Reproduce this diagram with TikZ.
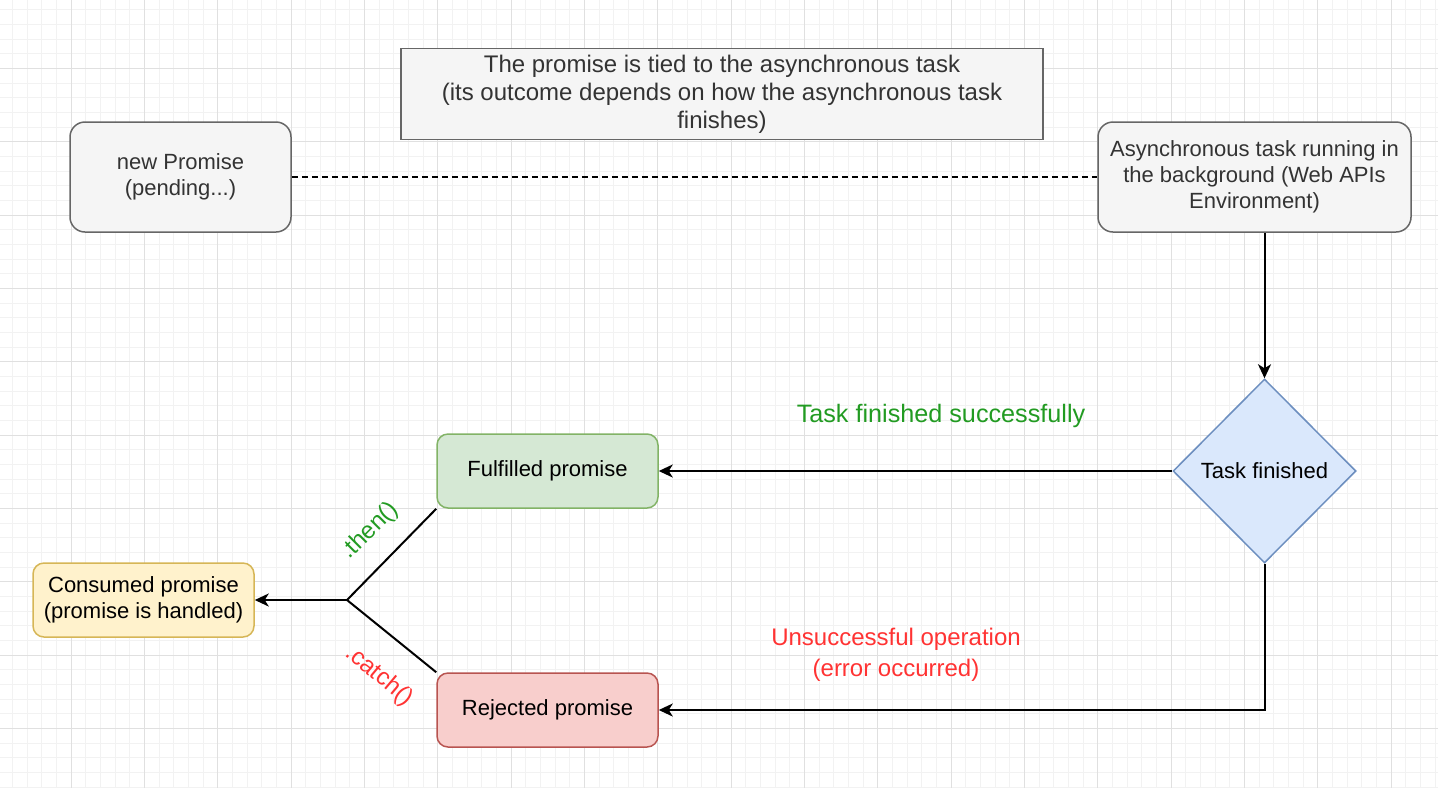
\documentclass[tikz,border=0pt]{standalone}
\usepackage{fontspec}
\setmainfont{Liberation Sans}
\usepackage{xcolor}
\usepackage{tikz}
\usetikzlibrary{shapes.geometric, arrows.meta}
\definecolor{greyfill}{HTML}{F5F5F5}
\definecolor{greyline}{HTML}{666666}
\definecolor{greytext}{HTML}{333333}
\definecolor{greenfill}{HTML}{D5E8D4}
\definecolor{greenline}{HTML}{82B366}
\definecolor{redfill}{HTML}{F8CECC}
\definecolor{redline}{HTML}{B85450}
\definecolor{yellowfill}{HTML}{FFF2CC}
\definecolor{yellowline}{HTML}{D6B656}
\definecolor{bluefill}{HTML}{DAE8FC}
\definecolor{blueline}{HTML}{6C8EBF}
\definecolor{okgreen}{RGB}{34,155,34}
\definecolor{errred}{HTML}{FF3333}
\definecolor{minorgrid}{HTML}{F2F2F2}
\definecolor{majorgrid}{HTML}{E0E0E0}
\tikzstyle{box}= [draw, line width=0.75pt, rounded corners=5.5pt, minimum width=110.5pt, minimum height=37pt, inner sep=0pt, align=center, font=\fontsize{11}{13}\selectfont]
\tikzstyle{greybox}= [box, fill=greyfill, draw=greyline, text=greytext, minimum height=55pt, rounded corners=7.5pt]
\tikzstyle{note}= [draw=greyline, fill=greyfill, text=greytext, line width=0.75pt, minimum width=321pt, minimum height=45.5pt, inner sep=0pt, align=center, font=\fontsize{12}{14}\selectfont]
\tikzstyle{decision}= [diamond, draw=blueline, fill=bluefill, line width=0.75pt, minimum width=91.5pt, minimum height=92pt, inner sep=0pt, font=\fontsize{11}{13}\selectfont]
\tikzstyle{conn}= [line width=1pt, -{Stealth[length=7pt, width=6.5pt, inset=2pt]}]
\tikzstyle{lbl}= [align=center, font=\fontsize{12}{15.5}\selectfont]

\begin{document}
\begin{tikzpicture}[x=0.5pt, y=-0.5pt]
				\useasboundingbox (0,0) rectangle (1438,788);
				\fill[white] (0,0) rectangle (1438,788);
				% grid paper
				\foreach \i in {0,...,98} \draw[minorgrid, line width=0.5pt] ({-2.3+14.667*\i},0) -- ({-2.3+14.667*\i},788);
				\foreach \j in {0,...,54} \draw[minorgrid, line width=0.5pt] (0,{-5+14.667*\j}) -- (1438,{-5+14.667*\j});
				\foreach \i in {0,...,20} \draw[majorgrid, line width=0.5pt] ({-2.3+73.333*\i},0) -- ({-2.3+73.333*\i},788);
				\foreach \j in {0,...,11} \draw[majorgrid, line width=0.5pt] (0,{-5+73.333*\j}) -- (1438,{-5+73.333*\j});
				
				\node[greybox] (newp) at (180.5, 177) {new Promise\\(pending...)};
				\node[greybox, minimum width=156.5pt] (async) at (1254.5, 177) {Asynchronous task running in\\the background (Web APIs\\Environment)};
				\node[note] (tied) at (722, 94) {The promise is tied to the asynchronous task\\(its outcome depends on how the asynchronous task\\finishes)};
				\node[decision] (done) at (1264.5, 471) {Task finished};
				\node[box, fill=greenfill, draw=greenline] (ful) at (547.5, 471) {Fulfilled promise};
				\node[box, fill=redfill, draw=redline] (rej) at (547.5, 710) {Rejected promise};
				\node[box, fill=yellowfill, draw=yellowline] (cons) at (143.5, 600) {Consumed promise\\(promise is handled)};
				\coordinate (fork) at (347, 600);
				
				\draw[line width=0.75pt, dash pattern=on 3pt off 2pt] (newp) -- (async);
				\draw[conn] (done.north |- async.south) -- (done.north);
				\draw[conn] (done) -- (ful);
				\draw[conn] (done.south) |- (rej);
				\draw[line width=1pt] (ful.south west) -- (fork);
				\draw[line width=1pt] (rej.north west) -- (fork);
				\draw[conn] (fork) -- (cons);
				
				\node[lbl, text=okgreen, font=\fontsize{12.6}{15}\selectfont] (okl) at (941, 416) {Task finished successfully};
				\node[lbl, text=errred] (errl) at (896, 655) {Unsuccessful operation\\(error occurred)};
				\node[lbl, text=okgreen, rotate=45] (thenl) at (370, 531) {.then()};
				\node[lbl, text=errred, rotate=-40] (catchl) at (379, 676) {.catch()};
			\end{tikzpicture}
\end{document}
